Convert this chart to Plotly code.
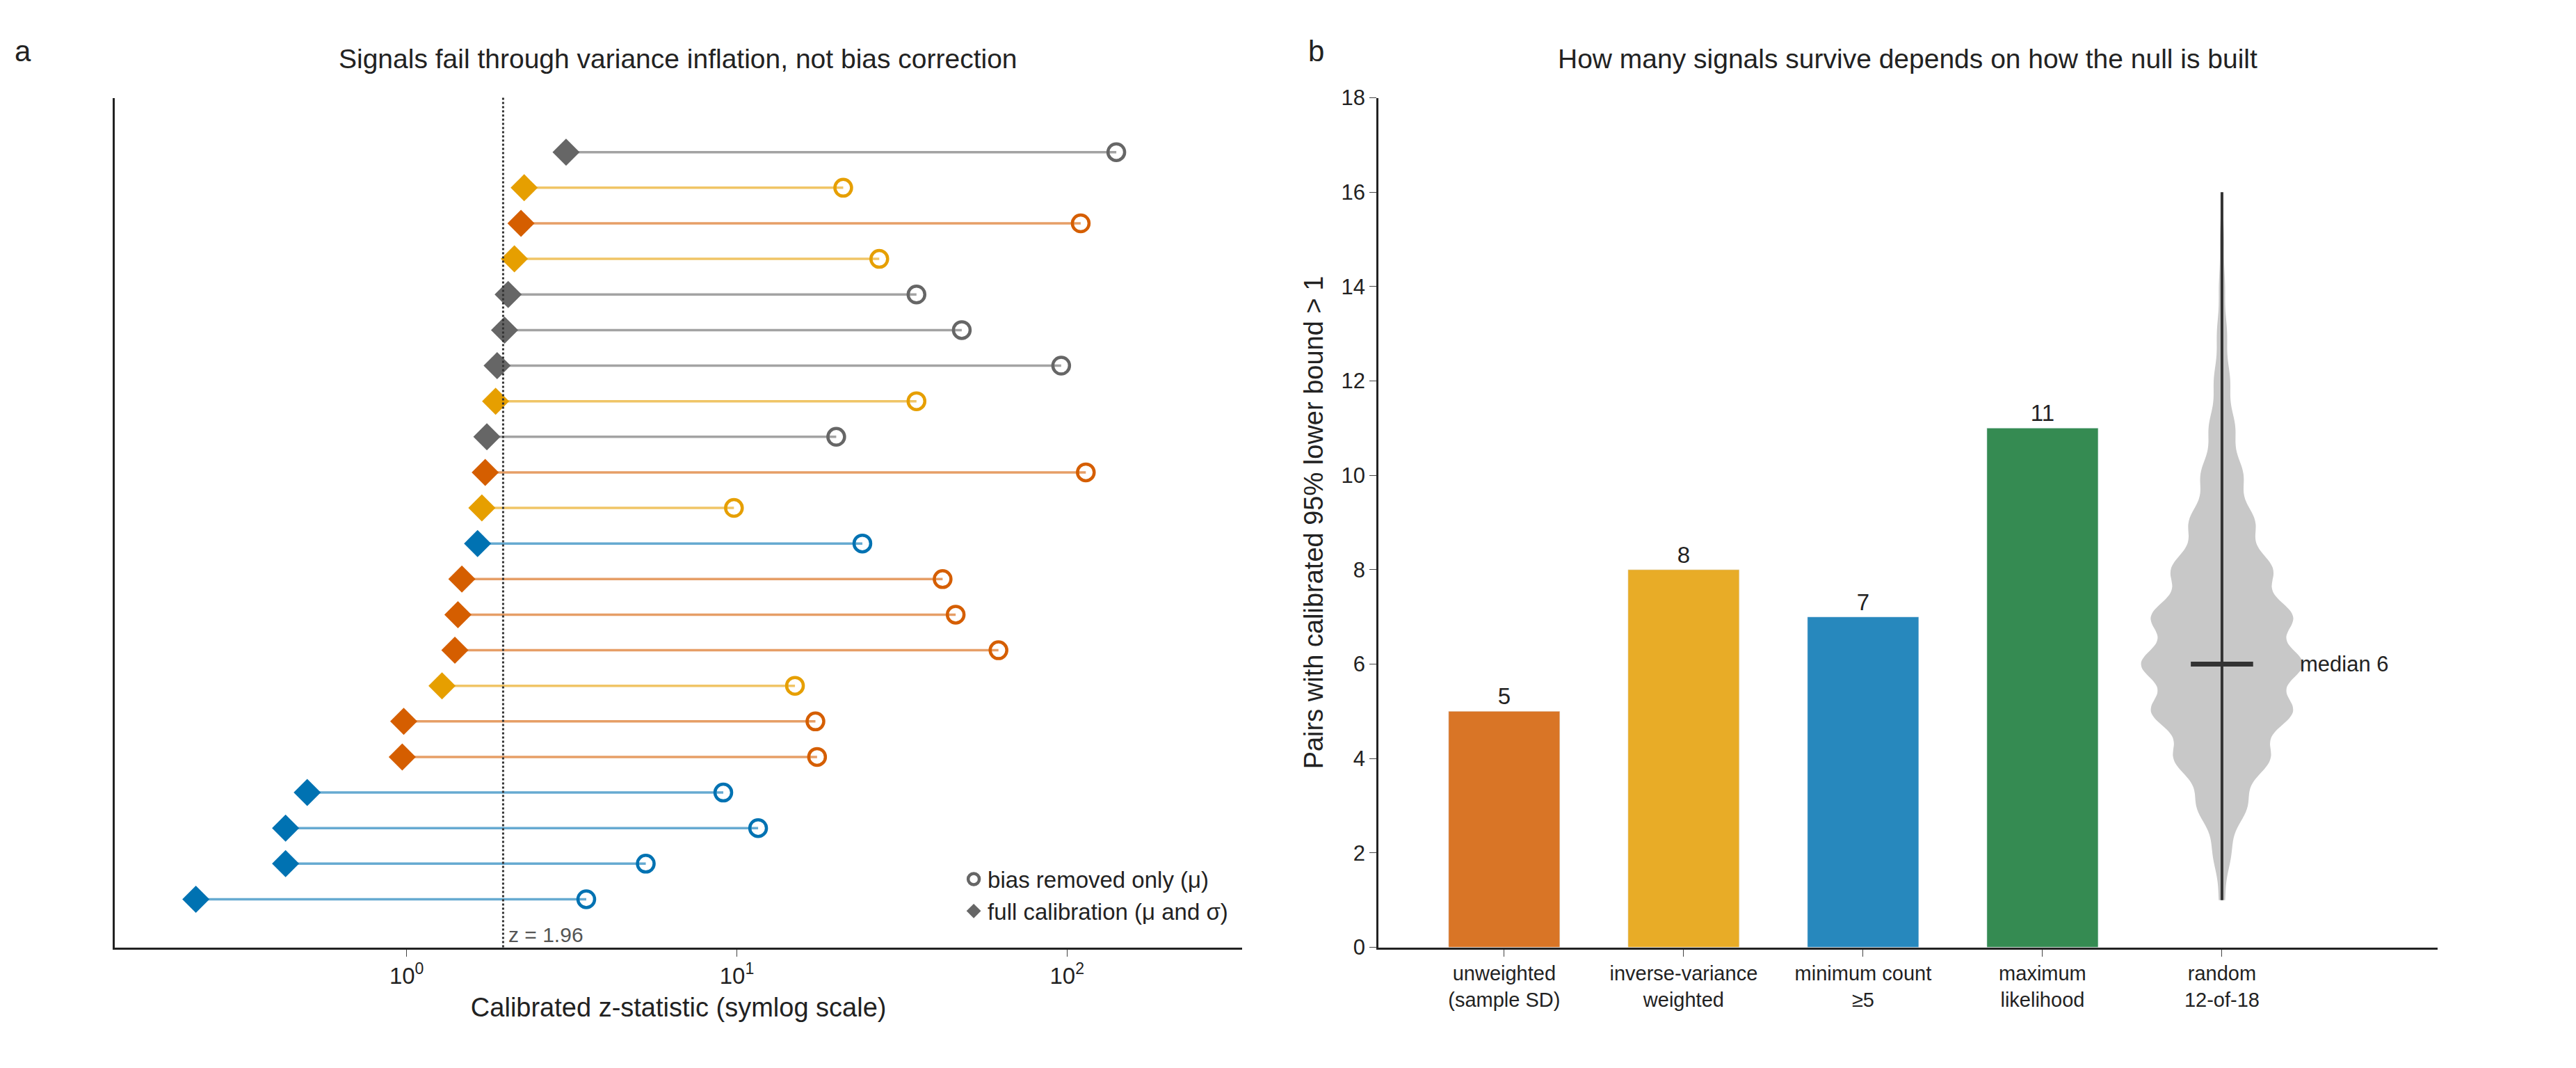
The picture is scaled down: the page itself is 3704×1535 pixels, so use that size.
"""Figure - calibration des signaux
"""

#### Fonctions secondaires


# imports
import numpy as np
from plotly.graph_objects import Scatter, Bar, Violin, Figure

POLICE = "Liberation Sans"

def panneau_a(fig, lignes):
    """
    Trace le graphique en sucettes (panneau a) a partir de la liste des signaux.
    """
    couleurs = {"gris": ("#666666", "rgba(102,102,102,0.6)"),
                "jaune": ("#E69F00", "rgba(230,159,0,0.6)"),
                "orange": ("#D55E00", "rgba(213,94,0,0.6)"),
                "bleu": ("#0072B2", "rgba(0,114,178,0.6)")}
    n = len(lignes)
    for i, (complet, biais, coul) in enumerate(lignes):
        y = n - 1 - i
        plein, clair = couleurs[coul]
        fig.add_trace(Scatter(x=[complet, biais], y=[y, y], mode="lines",
                              line=dict(color=clair, width=3.5),
                              showlegend=False, xaxis="x", yaxis="y"))
        fig.add_trace(Scatter(x=[biais], y=[y], mode="markers", showlegend=False,
                              marker=dict(symbol="circle-open", size=24, color=plein,
                                          line=dict(width=4.5)),
                              xaxis="x", yaxis="y"))
        fig.add_trace(Scatter(x=[complet], y=[y], mode="markers", showlegend=False,
                              marker=dict(symbol="diamond", size=30, color=plein),
                              xaxis="x", yaxis="y"))
    # legende
    fig.add_trace(Scatter(x=[None], y=[None], mode="markers", name="bias removed only (μ)",
                          marker=dict(symbol="circle-open", size=26, color="#666666",
                                      line=dict(width=4.5))))
    fig.add_trace(Scatter(x=[None], y=[None], mode="markers", name="full calibration (μ and σ)",
                          marker=dict(symbol="diamond", size=32, color="#666666")))
    fig.add_shape(type="line", x0=1.96, x1=1.96, y0=0, y1=1, xref="x", yref="y domain",
                  line=dict(color="#333333", width=3, dash="dot"))
    fig.add_annotation(x=np.log10(1.96), y=0, xref="x", yref="y domain", text="z = 1.96",
                       showarrow=False, xanchor="left", yanchor="bottom", xshift=6,
                       font=dict(size=30, color="#555555"))
    return None


def panneau_b(fig, methodes, nombres, couleurs, tirages):
    """
    Trace les barres et le violon (panneau b).
    """
    fig.add_trace(Bar(x=methodes, y=nombres, marker_color=couleurs, width=0.62,
                      text=[str(v) for v in nombres], textposition="outside",
                      textfont=dict(size=33, color="#222222"), cliponaxis=False,
                      showlegend=False, xaxis="x2", yaxis="y2"))
    x_violon = "random<br>12-of-18"
    fig.add_trace(Violin(x=[x_violon] * len(tirages), y=tirages, fillcolor="#C8C8C8",
                         line=dict(color="#C8C8C8", width=0), opacity=1, width=0.9,
                         points=False, box_visible=False, meanline_visible=False,
                         bandwidth=0.4, spanmode="hard", showlegend=False,
                         hoverinfo="skip", xaxis="x2", yaxis="y2"))
    fig.add_trace(Scatter(x=[x_violon, x_violon], y=[min(tirages), max(tirages)], mode="lines",
                          line=dict(color="#333333", width=4), showlegend=False,
                          xaxis="x2", yaxis="y2"))
    mediane = float(np.median(tirages))
    fig.add_trace(Scatter(x=[x_violon], y=[mediane], mode="markers",
                          marker=dict(symbol="line-ew", size=64, line=dict(color="#333333", width=7)),
                          showlegend=False, xaxis="x2", yaxis="y2"))
    fig.add_annotation(x=x_violon, y=mediane, xref="x2", yref="y2", text="median %d" % mediane,
                       showarrow=False, xanchor="left", xshift=110, font=dict(size=31))
    return None


#### Fonction principale


def main():
    """Fonction principale qui appelle les fonctions secondaires.
    """
    # (full calibration, bias removed only, couleur) du haut vers le bas
    lignes = [(3.04, 141, "gris"), (2.27, 21, "jaune"), (2.22, 110, "orange"),
              (2.12, 27, "jaune"), (2.03, 35, "gris"), (1.98, 48, "gris"),
              (1.88, 96, "gris"), (1.86, 35, "jaune"), (1.75, 20, "gris"),
              (1.73, 114, "orange"), (1.69, 9.8, "jaune"), (1.64, 24, "bleu"),
              (1.47, 42, "orange"), (1.43, 46, "orange"), (1.40, 62, "orange"),
              (1.28, 15, "jaune"), (0.98, 17.3, "orange"), (0.97, 17.5, "orange"),
              (0.50, 9.1, "bleu"), (0.43, 11.6, "bleu"), (0.43, 5.3, "bleu"),
              (0.23, 3.5, "bleu")]
    methodes = ["unweighted<br>(sample SD)", "inverse-variance<br>weighted",
                "minimum count<br>≥5", "maximum<br>likelihood"]
    nombres = [5, 8, 7, 11]
    couleurs = ["#D97526", "#E8AC27", "#2788BD", "#358B52"]
    # nombre de tirages aleatoires 12-of-18 par nombre de signaux survivants
    effectifs = {1: 6, 2: 18, 3: 50, 4: 95, 5: 140, 6: 160, 7: 140, 8: 100, 9: 65,
                 10: 42, 11: 26, 12: 16, 13: 10, 14: 6, 15: 4, 16: 2}
    tirages = np.repeat(list(effectifs.keys()), list(effectifs.values()))

    fig = Figure({'layout': {
        'width': 3704, 'height': 1535, 'plot_bgcolor': "white", 'paper_bgcolor': "white",
        'font': {'family': POLICE, 'size': 31, 'color': "#222222"},
        'margin': {'l': 0, 'r': 0, 't': 0, 'b': 0},
        'xaxis': {'domain': [0.0425, 0.48], 'type': "log", 'range': [-0.883, 2.53],
                  'tickvals': [1, 10, 100], 'ticktext': ["10<sup>0</sup>", "10<sup>1</sup>", "10<sup>2</sup>"],
                  'ticks': "outside", 'ticklen': 10, 'showline': True, 'linecolor': "#222222",
                  'linewidth': 3, 'showgrid': False, 'zeroline': False, 'tickfont': {'size': 33},
                  'title': {'text': "Calibrated z-statistic (symlog scale)", 'font': {'size': 38}}},
        'yaxis': {'domain': [0.109, 0.923], 'range': [-1.35, 22.53], 'showticklabels': False,
                  'showline': True, 'linecolor': "#222222", 'linewidth': 3,
                  'showgrid': False, 'zeroline': False, 'ticks': ""},
        'xaxis2': {'domain': [0.533, 0.944], 'anchor': "y2", 'showline': True, 'linecolor': "#222222",
                   'linewidth': 3, 'ticks': "outside", 'ticklen': 10, 'showgrid': False,
                   'range': [-0.7, 5.2], 'tickfont': {'size': 29}},
        'yaxis2': {'domain': [0.109, 0.923], 'anchor': "x2", 'range': [0, 18], 'dtick': 2,
                   'showline': True, 'linecolor': "#222222", 'linewidth': 3, 'ticks': "outside",
                   'ticklen': 10, 'showgrid': False, 'zeroline': False, 'tickfont': {'size': 31},
                   'title': {'text': "Pairs with calibrated 95% lower bound > 1", 'font': {'size': 38}}},
        'legend': {'x': 0.476, 'y': 0.125, 'xanchor': "right", 'yanchor': "bottom",
                   'font': {'size': 33}, 'bgcolor': "rgba(0,0,0,0)"},
        'annotations': [
            {'text': "a", 'x': 0.003, 'y': 0.985, 'xref': "paper", 'yref': "paper", 'showarrow': False,
             'xanchor': "left", 'yanchor': "top", 'font': {'size': 42}},
            {'text': "b", 'x': 0.505, 'y': 0.985, 'xref': "paper", 'yref': "paper", 'showarrow': False,
             'xanchor': "left", 'yanchor': "top", 'font': {'size': 42}},
            {'text': "Signals fail through variance inflation, not bias correction", 'x': 0.261,
             'y': 0.945, 'xref': "paper", 'yref': "paper", 'showarrow': False,
             'xanchor': "center", 'yanchor': "bottom", 'font': {'size': 39}},
            {'text': "How many signals survive depends on how the null is built", 'x': 0.7385,
             'y': 0.945, 'xref': "paper", 'yref': "paper", 'showarrow': False,
             'xanchor': "center", 'yanchor': "bottom", 'font': {'size': 39}},
        ],
    }})
    panneau_a(fig, lignes)
    panneau_b(fig, methodes, nombres, couleurs, tirages)
    fig.write_html("out.html")


if __name__ == "__main__":
    main()
